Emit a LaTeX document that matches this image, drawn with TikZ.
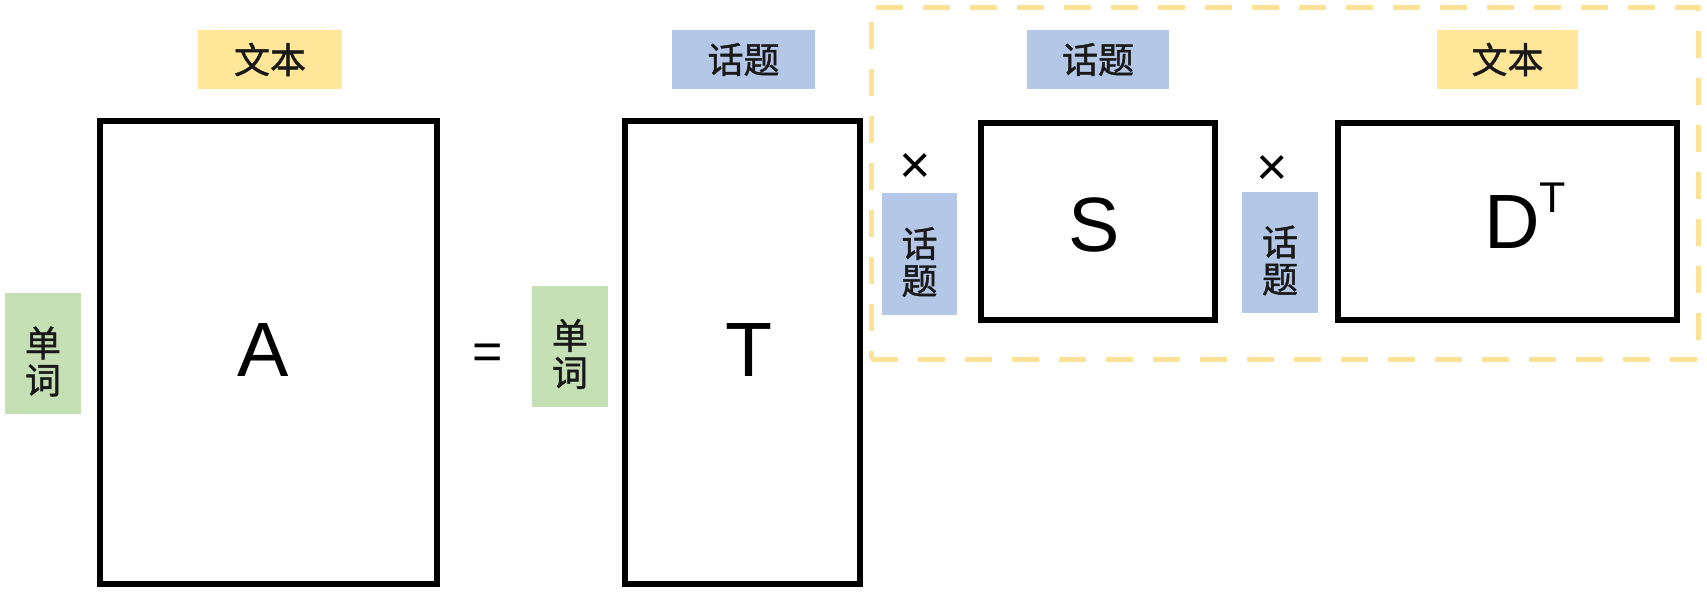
\documentclass[tikz,border=0pt]{standalone}
\usepackage{fontspec}
\setmainfont{Liberation Sans}
\newfontfamily\cjk[FakeBold=1.2]{Noto Sans CJK SC}
\definecolor{lblyellow}{RGB}{255,230,153}
\definecolor{lblblue}{RGB}{180,199,231}
\definecolor{lblgreen}{RGB}{197,224,180}
\definecolor{dashyellow}{RGB}{250,226,150}
\definecolor{lbltext}{RGB}{25,25,25}
\begin{document}
\begin{tikzpicture}[x=1pt,y=-1pt,
  grpbox/.style={draw=dashyellow, line width=5pt, dash pattern=on 27pt off 20pt, inner sep=0pt},
  matbox/.style={draw=black, line width=6pt, inner sep=0pt},
  toplbl/.style={inner sep=0pt, minimum height=59pt, text=lbltext, font=\cjk\fontsize{36}{36}\selectfont},
  sidelbl/.style={inner sep=0pt, minimum width=76pt, minimum height=121pt},
  sidetxt/.style={inner sep=0pt, align=center, text=lbltext, font=\cjk\fontsize{36}{37}\selectfont},
  letter/.style={inner sep=0pt, font=\fontsize{77}{77}\selectfont},
  optxt/.style={inner sep=0pt, font=\fontsize{54}{54}\selectfont}
]
\useasboundingbox (0,0) rectangle (1707,597);

% dashed group
\node (grp) [grpbox, minimum width=827pt, minimum height=352pt] at (1284.5,183) {};

% matrices
\node (A) [matbox, minimum width=337pt, minimum height=463pt] at (268.5,352.5) {};
\node (T) [matbox, minimum width=235pt, minimum height=463pt] at (742.5,352.5) {};
\node (S) [matbox, minimum width=234pt, minimum height=197pt] at (1098,221.5) {};
\node (D) [matbox, minimum width=339pt, minimum height=197pt] at (1507.5,221.5) {};

% letters
\node (Aletter) [letter] at (263,350) {A};
\node (Tletter) [letter] at (749,350) {T};
\node (Sletter) [letter] at (1094,225) {S};
\node (Dletter) [letter, anchor=base west] at (1484,248) {D\raisebox{36pt}{\fontsize{43}{43}\selectfont T}};

% operators
\node (eq) [inner sep=0pt, font=\fontsize{52}{52}\selectfont] at (488,356.5) {=};
\node (times1) [optxt] at (915,168) {×};
\node (times2) [optxt] at (1272,170) {×};

% top labels
\node (wb1) [toplbl, fill=lblyellow, minimum width=144pt] at (270,59.5) {文本};
\node (ht1) [toplbl, fill=lblblue, minimum width=143pt] at (743.5,59.5) {话题};
\node (ht2) [toplbl, fill=lblblue, minimum width=142pt] at (1098,59.5) {话题};
\node (wb2) [toplbl, fill=lblyellow, minimum width=141pt] at (1507.5,59.5) {文本};

% side labels
\node (dc1) [sidelbl, fill=lblgreen] at (43,353.5) {};
\node (dc1t) [sidetxt] at ([yshift=-8pt]dc1.center) {单\\词};
\node (dc2) [sidelbl, fill=lblgreen] at (570,346) {};
\node (dc2t) [sidetxt] at ([yshift=-8pt]dc2.center) {单\\词};
\node (hv1) [sidelbl, fill=lblblue, minimum width=75pt, minimum height=122pt] at (919.5,254) {};
\node (hv1t) [sidetxt] at ([yshift=-8pt]hv1.center) {话\\题};
\node (hv2) [sidelbl, fill=lblblue] at (1280,252.5) {};
\node (hv2t) [sidetxt] at ([yshift=-8pt]hv2.center) {话\\题};
\end{tikzpicture}
\end{document}
